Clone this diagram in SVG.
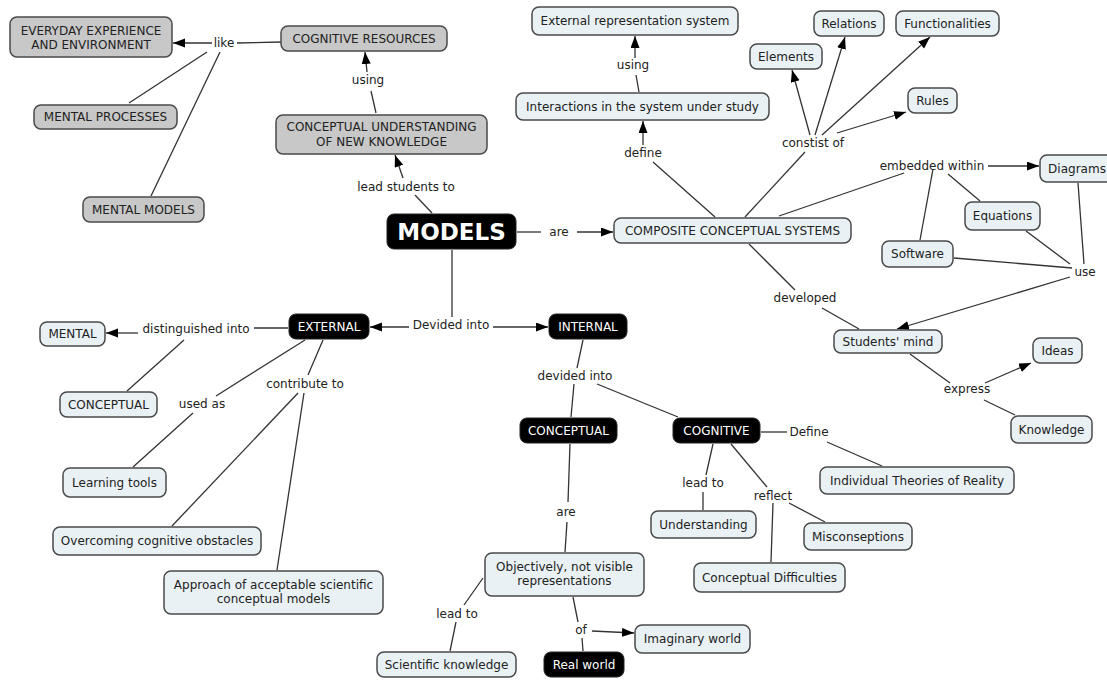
<svg xmlns="http://www.w3.org/2000/svg" width="1107" height="680" viewBox="0 0 1107 680">
<style>
text{font-family:"DejaVu Sans","Verdana",sans-serif;font-size:12px;fill:#222;text-anchor:middle}
.g rect{fill:#c8c8c8;stroke:#4a4a4a;stroke-width:1.5}
.l rect{fill:#e9f1f5;stroke:#4a4a4a;stroke-width:1.5}
.b rect{fill:#000;stroke:#222;stroke-width:1}
.b text{fill:#fff}
#connectors line{stroke:#333;stroke-width:1.3}
#connectors line.a{marker-end:url(#ah)}
</style>
<defs>
<marker id="ah" markerUnits="userSpaceOnUse" markerWidth="12" markerHeight="10" refX="12" refY="4.5" orient="auto"><path d="M0,0L12,4.5L0,9z" fill="#000"/></marker>
</defs>
<rect width="1107" height="680" fill="#fff"/>
<g id="connectors">
<line class="a" x1="212" y1="43" x2="173" y2="43"/>
<line x1="281" y1="42" x2="237" y2="43"/>
<line x1="207" y1="52" x2="129" y2="103"/>
<line x1="220" y1="52" x2="151" y2="196"/>
<line x1="376" y1="113" x2="371" y2="91"/>
<line class="a" x1="367" y1="72" x2="365" y2="52"/>
<line x1="432" y1="213" x2="415" y2="195"/>
<line class="a" x1="403" y1="178" x2="395" y2="155"/>
<line x1="517" y1="232" x2="541" y2="232"/>
<line class="a" x1="577" y1="232" x2="613" y2="232"/>
<line x1="715" y1="217" x2="653" y2="162"/>
<line class="a" x1="643" y1="145" x2="643" y2="121"/>
<line x1="639" y1="92" x2="636" y2="75"/>
<line class="a" x1="635" y1="58" x2="635" y2="36"/>
<line x1="745" y1="217" x2="805" y2="152"/>
<line class="a" x1="810" y1="135" x2="792" y2="70"/>
<line class="a" x1="815" y1="135" x2="845" y2="37"/>
<line class="a" x1="822" y1="135" x2="930" y2="37"/>
<line class="a" x1="837" y1="133" x2="906" y2="112"/>
<line x1="779" y1="216" x2="904" y2="173"/>
<line class="a" x1="988" y1="166" x2="1039" y2="166"/>
<line x1="948" y1="174" x2="980" y2="201"/>
<line x1="933" y1="169" x2="920" y2="240"/>
<line x1="1078" y1="183" x2="1084" y2="264"/>
<line x1="1026" y1="231" x2="1070" y2="264"/>
<line x1="954" y1="258" x2="1072" y2="268"/>
<line class="a" x1="1070" y1="277" x2="897" y2="329"/>
<line x1="749" y1="244" x2="795" y2="290"/>
<line x1="822" y1="308" x2="859" y2="329"/>
<line x1="910" y1="354" x2="950" y2="383"/>
<line class="a" x1="985" y1="383" x2="1031" y2="363"/>
<line x1="984" y1="400" x2="1015" y2="415"/>
<line x1="452" y1="250" x2="452" y2="317"/>
<line class="a" x1="409" y1="327" x2="370" y2="327"/>
<line class="a" x1="493" y1="327" x2="548" y2="327"/>
<line x1="288" y1="328" x2="254" y2="328"/>
<line class="a" x1="138" y1="333" x2="106" y2="333"/>
<line x1="184" y1="340" x2="127" y2="391"/>
<line x1="305" y1="340" x2="216" y2="396"/>
<line x1="193" y1="413" x2="133" y2="467"/>
<line x1="323" y1="340" x2="308" y2="375"/>
<line x1="298" y1="393" x2="172" y2="526"/>
<line x1="304" y1="393" x2="277" y2="570"/>
<line x1="583" y1="340" x2="577" y2="368"/>
<line x1="574" y1="384" x2="571" y2="417"/>
<line x1="597" y1="384" x2="678" y2="417"/>
<line x1="761" y1="432" x2="787" y2="432"/>
<line x1="827" y1="442" x2="882" y2="466"/>
<line x1="713" y1="444" x2="706" y2="475"/>
<line x1="703" y1="492" x2="703" y2="510"/>
<line x1="731" y1="444" x2="767" y2="487"/>
<line x1="773" y1="503" x2="771" y2="562"/>
<line x1="789" y1="503" x2="825" y2="522"/>
<line x1="570" y1="444" x2="568" y2="502"/>
<line x1="567" y1="522" x2="565" y2="552"/>
<line x1="483" y1="578" x2="464" y2="605"/>
<line x1="456" y1="622" x2="450" y2="651"/>
<line x1="573" y1="597" x2="578" y2="622"/>
<line x1="582" y1="638" x2="583" y2="651"/>
<line class="a" x1="592" y1="631" x2="634" y2="633"/>
</g>
<g id="labels">
<text x="224" y="47">like</text>
<text x="368" y="84">using</text>
<text x="406" y="191">lead students to</text>
<text x="559" y="236">are</text>
<text x="633" y="69">using</text>
<text x="643" y="157">define</text>
<text x="813" y="147">constist of</text>
<text x="932" y="170">embedded within</text>
<text x="1085" y="276">use</text>
<text x="805" y="302">developed</text>
<text x="967" y="393">express</text>
<text x="196" y="333">distinguished into</text>
<text x="202" y="408">used as</text>
<text x="305" y="388">contribute to</text>
<text x="451" y="329">Devided into</text>
<text x="575" y="380">devided into</text>
<text x="809" y="436">Define</text>
<text x="703" y="487">lead to</text>
<text x="773" y="500">reflect</text>
<text x="566" y="516">are</text>
<text x="457" y="618">lead to</text>
<text x="581" y="634">of</text>
</g>
<g id="everyday" class="g"><rect x="10" y="17" width="162" height="40" rx="7"/><text x="91" y="35">EVERYDAY EXPERIENCE</text><text x="91" y="49">AND ENVIRONMENT</text></g>
<g id="cogres" class="g"><rect x="281" y="26" width="166" height="25" rx="7"/><text x="364" y="43">COGNITIVE RESOURCES</text></g>
<g id="mentproc" class="g"><rect x="34" y="105" width="143" height="24" rx="7"/><text x="105.5" y="121">MENTAL PROCESSES</text></g>
<g id="mentmod" class="g"><rect x="83" y="197" width="121" height="25" rx="7"/><text x="143.5" y="214">MENTAL MODELS</text></g>
<g id="concund" class="g"><rect x="276" y="115" width="211" height="39" rx="7"/><text x="381.5" y="131">CONCEPTUAL UNDERSTANDING</text><text x="381.5" y="146">OF NEW KNOWLEDGE</text></g>
<g id="models" class="b"><rect x="387" y="214" width="129" height="35" rx="7"/><text x="451.5" y="240" style="font-size:23px;font-weight:bold">MODELS</text></g>
<g id="external" class="b"><rect x="289" y="314" width="80" height="25" rx="7"/><text x="329" y="331">EXTERNAL</text></g>
<g id="internal" class="b"><rect x="549" y="314" width="78" height="25" rx="7"/><text x="588" y="331">INTERNAL</text></g>
<g id="conceptual-int" class="b"><rect x="520" y="418" width="97" height="25" rx="7"/><text x="568.5" y="435">CONCEPTUAL</text></g>
<g id="cognitive" class="b"><rect x="673" y="418" width="87" height="25" rx="7"/><text x="716.5" y="435">COGNITIVE</text></g>
<g id="realworld" class="b"><rect x="544" y="652" width="80" height="25" rx="7"/><text x="584" y="669">Real world</text></g>
<g id="composite" class="l"><rect x="614" y="218" width="237" height="25" rx="7"/><text x="732.5" y="235">COMPOSITE CONCEPTUAL SYSTEMS</text></g>
<g id="extrep" class="l"><rect x="532" y="7" width="206" height="28" rx="7"/><text x="635" y="25">External representation system</text></g>
<g id="interactions" class="l"><rect x="516" y="93" width="253" height="27" rx="7"/><text x="642.5" y="111">Interactions in the system under study</text></g>
<g id="elements" class="l"><rect x="750" y="44" width="72" height="25" rx="7"/><text x="786" y="61">Elements</text></g>
<g id="relations" class="l"><rect x="814" y="11" width="70" height="25" rx="7"/><text x="849" y="28">Relations</text></g>
<g id="functionalities" class="l"><rect x="896" y="11" width="103" height="25" rx="7"/><text x="947.5" y="28">Functionalities</text></g>
<g id="rules" class="l"><rect x="908" y="88" width="49" height="25" rx="7"/><text x="932.5" y="105">Rules</text></g>
<g id="diagrams" class="l"><rect x="1040" y="155" width="78" height="27" rx="7"/><text x="1077" y="173">Diagrams</text></g>
<g id="equations" class="l"><rect x="965" y="202" width="75" height="28" rx="7"/><text x="1002.5" y="220">Equations</text></g>
<g id="software" class="l"><rect x="882" y="241" width="71" height="26" rx="7"/><text x="917.5" y="258">Software</text></g>
<g id="studentsmind" class="l"><rect x="834" y="330" width="108" height="23" rx="7"/><text x="888" y="346">Students' mind</text></g>
<g id="ideas" class="l"><rect x="1033" y="338" width="49" height="25" rx="7"/><text x="1057.5" y="355">Ideas</text></g>
<g id="knowledge" class="l"><rect x="1011" y="416" width="81" height="27" rx="7"/><text x="1051.5" y="434">Knowledge</text></g>
<g id="mental" class="l"><rect x="40" y="322" width="65" height="24" rx="7"/><text x="72.5" y="338">MENTAL</text></g>
<g id="conceptual-ext" class="l"><rect x="60" y="392" width="97" height="25" rx="7"/><text x="108.5" y="409">CONCEPTUAL</text></g>
<g id="learning" class="l"><rect x="63" y="468" width="103" height="29" rx="7"/><text x="114.5" y="487">Learning tools</text></g>
<g id="overcoming" class="l"><rect x="53" y="527" width="208" height="28" rx="7"/><text x="157" y="545">Overcoming cognitive obstacles</text></g>
<g id="approach" class="l"><rect x="164" y="571" width="219" height="43" rx="7"/><text x="273.5" y="589">Approach of acceptable scientific</text><text x="273.5" y="603">conceptual models</text></g>
<g id="individual" class="l"><rect x="820" y="467" width="194" height="27" rx="7"/><text x="917" y="485">Individual Theories of Reality</text></g>
<g id="understanding" class="l"><rect x="651" y="511" width="105" height="27" rx="7"/><text x="703.5" y="529">Understanding</text></g>
<g id="misconseptions" class="l"><rect x="804" y="523" width="108" height="27" rx="7"/><text x="858" y="541">Misconseptions</text></g>
<g id="concdiff" class="l"><rect x="694" y="563" width="151" height="29" rx="7"/><text x="769.5" y="582">Conceptual Difficulties</text></g>
<g id="objectively" class="l"><rect x="485" y="553" width="159" height="43" rx="7"/><text x="564.5" y="571">Objectively, not visible</text><text x="564.5" y="585">representations</text></g>
<g id="scientific" class="l"><rect x="377" y="652" width="139" height="25" rx="7"/><text x="446.5" y="669">Scientific knowledge</text></g>
<g id="imaginary" class="l"><rect x="635" y="625" width="115" height="28" rx="7"/><text x="692.5" y="643">Imaginary world</text></g>
</svg>
